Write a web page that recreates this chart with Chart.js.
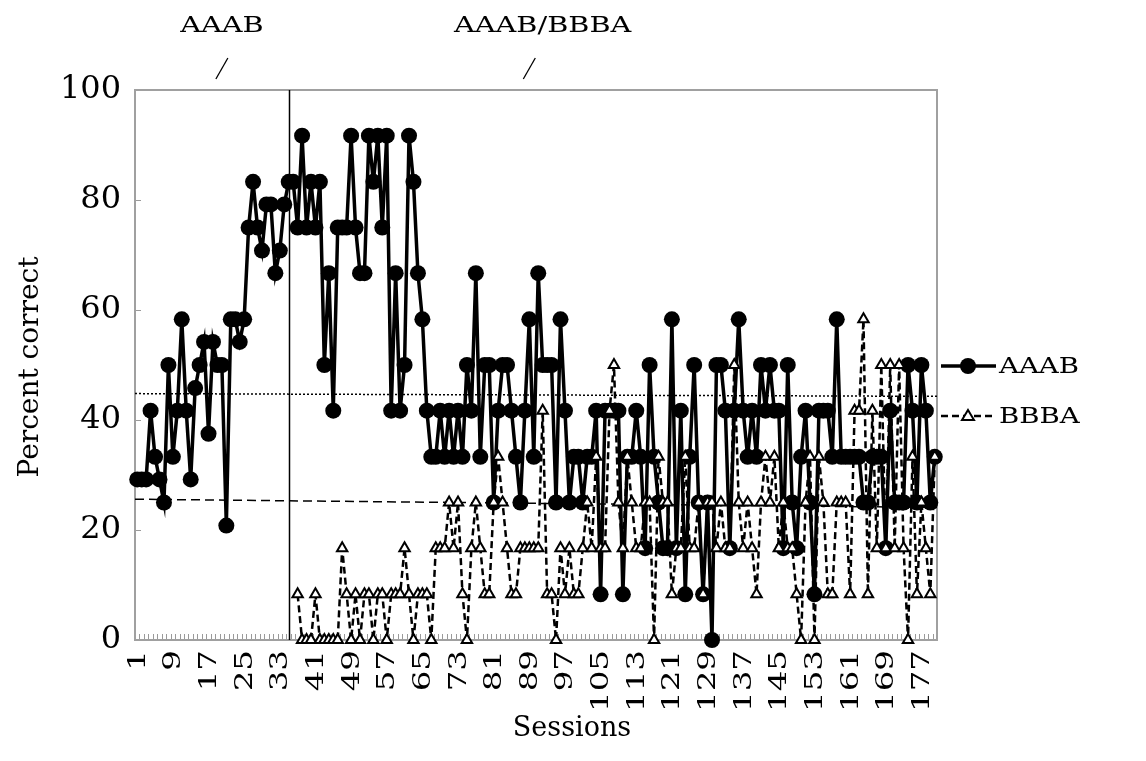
<!DOCTYPE html>
<html>
<head>
<meta charset="utf-8">
<script src="https://cdn.jsdelivr.net/npm/chart.js@4.4.1/dist/chart.umd.min.js"></script>
<style>
  html, body { margin: 0; padding: 0; background: #fff; }
  canvas { display: block; }
</style>
</head>
<body>
<canvas id="chart" width="1146" height="761"></canvas>
<script>
const sessions = [
  1, 2, 3, 4, 5, 6, 7, 8, 9, 10, 11, 12, 13, 14, 15, 16, 17, 18, 19, 20,
  21, 22, 23, 24, 25, 26, 27, 28, 29, 30, 31, 32, 33, 34, 35, 36, 37, 38, 39, 40,
  41, 42, 43, 44, 45, 46, 47, 48, 49, 50, 51, 52, 53, 54, 55, 56, 57, 58, 59, 60,
  61, 62, 63, 64, 65, 66, 67, 68, 69, 70, 71, 72, 73, 74, 75, 76, 77, 78, 79, 80,
  81, 82, 83, 84, 85, 86, 87, 88, 89, 90, 91, 92, 93, 94, 95, 96, 97, 98, 99, 100,
  101, 102, 103, 104, 105, 106, 107, 108, 109, 110, 111, 112, 113, 114, 115, 116, 117, 118, 119, 120,
  121, 122, 123, 124, 125, 126, 127, 128, 129, 130, 131, 132, 133, 134, 135, 136, 137, 138, 139, 140,
  141, 142, 143, 144, 145, 146, 147, 148, 149, 150, 151, 152, 153, 154, 155, 156, 157, 158, 159, 160,
  161, 162, 163, 164, 165, 166, 167, 168, 169, 170, 171, 172, 173, 174, 175, 176, 177, 178, 179, 180,
];
const xTickLabels = [1, 9, 17, 25, 33, 41, 49, 57, 65, 73, 81, 89, 97, 105, 113, 121, 129, 137, 145, 153, 161, 169, 177];
const yTicks = [0, 20, 40, 60, 80, 100];

// percent correct per session
const aaab = [
  29.2, 29.2, 29.2, 41.7, 33.3, 29.2, 25, 50, 33.3, 41.7,
  58.3, 41.7, 29.2, 45.8, 50, 54.2, 37.5, 54.2, 50, 50,
  20.8, 58.3, 58.3, 54.2, 58.3, 75, 83.3, 75, 70.8, 79.2,
  79.2, 66.7, 70.8, 79.2, 83.3, 83.3, 75, 91.7, 75, 83.3,
  75, 83.3, 50, 66.7, 41.7, 75, 75, 75, 91.7, 75,
  66.7, 66.7, 91.7, 83.3, 91.7, 75, 91.7, 41.7, 66.7, 41.7,
  50, 91.7, 83.3, 66.7, 58.3, 41.7, 33.3, 33.3, 41.7, 33.3,
  41.7, 33.3, 41.7, 33.3, 50, 41.7, 66.7, 33.3, 50, 50,
  25, 41.7, 50, 50, 41.7, 33.3, 25, 41.7, 58.3, 33.3,
  66.7, 50, 50, 50, 25, 58.3, 41.7, 25, 33.3, 33.3,
  25, 33.3, 33.3, 41.7, 8.3, 41.7, 41.7, 41.7, 41.7, 8.3,
  33.3, 33.3, 41.7, 33.3, 16.7, 50, 33.3, 25, 16.7, 16.7,
  58.3, 16.7, 41.7, 8.3, 33.3, 50, 25, 8.3, 25, 0,
  50, 50, 41.7, 16.7, 41.7, 58.3, 41.7, 33.3, 41.7, 33.3,
  50, 41.7, 50, 41.7, 41.7, 16.7, 50, 25, 16.7, 33.3,
  41.7, 25, 8.3, 41.7, 41.7, 41.7, 33.3, 58.3, 33.3, 33.3,
  33.3, 33.3, 33.3, 25, 25, 33.3, 33.3, 33.3, 16.7, 41.7,
  25, 25, 25, 50, 41.7, 25, 50, 41.7, 25, 33.3,
];
const bbba = [
  null, null, null, null, null, null, null, null, null, null,
  null, null, null, null, null, null, null, null, null, null,
  null, null, null, null, null, null, null, null, null, null,
  null, null, null, null, null, null, 8.3, 0, 0, 0,
  8.3, 0, 0, 0, 0, 0, 16.7, 8.3, 0, 8.3,
  0, 8.3, 8.3, 0, 8.3, 8.3, 0, 8.3, 8.3, 8.3,
  16.7, 8.3, 0, 8.3, 8.3, 8.3, 0, 16.7, 16.7, 16.7,
  25, 16.7, 25, 8.3, 0, 16.7, 25, 16.7, 8.3, 8.3,
  25, 33.3, 25, 16.7, 8.3, 8.3, 16.7, 16.7, 16.7, 16.7,
  16.7, 41.7, 8.3, 8.3, 0, 16.7, 8.3, 16.7, 8.3, 8.3,
  16.7, 25, 16.7, 33.3, 16.7, 16.7, 41.7, 50, 25, 16.7,
  33.3, 25, 16.7, 16.7, 25, 25, 0, 33.3, 25, 25,
  8.3, 16.7, 16.7, 33.3, 16.7, 16.7, 25, 8.3, 25, 25,
  16.7, 25, 16.7, 16.7, 50, 25, 16.7, 25, 16.7, 8.3,
  25, 33.3, 25, 33.3, 16.7, 25, 16.7, 16.7, 8.3, 0,
  25, 33.3, 0, 33.3, 25, 8.3, 8.3, 25, 25, 25,
  8.3, 41.7, 41.7, 58.3, 8.3, 41.7, 16.7, 50, 16.7, 50,
  16.7, 50, 16.7, 0, 33.3, 8.3, 25, 16.7, 8.3, 33.3,
];

// reference lines, value at left and right edge of the plot
const upperLine = [44.8, 44.3];
const lowerLine = [25.6, 24.1];

// first session of the AAAB/BBBA phase
const phaseChange = 35;

const FONT = "'DejaVu Serif', 'Liberation Serif', serif";

// text drawn a bit wider than the font, like the wide serif of the original
function wideText(ctx, text, x, y, stretch, angle) {
  ctx.save();
  ctx.translate(x, y);
  if (angle) ctx.rotate(angle);
  ctx.scale(stretch, 1);
  ctx.fillText(text, 0, 0);
  ctx.restore();
}

const decorations = {
  id: 'decorations',
  beforeDatasetsDraw(chart) {
    const { ctx, chartArea: a, scales } = chart;
    ctx.save();
    // small inner ticks along the x axis
    ctx.strokeStyle = '#9a9a9a';
    ctx.lineWidth = 1;
    const step = (a.right - a.left) / sessions.length;
    ctx.beginPath();
    for (let i = 0; i <= sessions.length; i++) {
      const x = Math.round(a.left + i * step) + 0.5;
      ctx.moveTo(x, a.bottom);
      ctx.lineTo(x, a.bottom - 6);
    }
    // y ticks pointing inward
    yTicks.forEach((v) => {
      const y = Math.round(scales.y.getPixelForValue(v)) + 0.5;
      ctx.moveTo(a.left, y);
      ctx.lineTo(a.left + 6, y);
    });
    ctx.stroke();
    // plot border
    ctx.strokeStyle = '#a0a0a0';
    ctx.lineWidth = 2;
    ctx.strokeRect(a.left, a.top, a.right - a.left, a.bottom - a.top);
    // phase change line
    const px = Math.round(scales.x.getPixelForValue(phaseChange - 1)) + 0.5;
    ctx.strokeStyle = '#000';
    ctx.lineWidth = 1.5;
    ctx.beginPath();
    ctx.moveTo(px, a.top);
    ctx.lineTo(px, a.bottom);
    ctx.stroke();
    ctx.restore();
  },
  afterDraw(chart) {
    const { ctx, scales, chartArea: a } = chart;
    ctx.save();
    ctx.fillStyle = '#000';
    ctx.strokeStyle = '#000';

    // x tick labels, rotated, reading bottom to top
    ctx.font = `25px ${FONT}`;
    ctx.textAlign = 'right';
    ctx.textBaseline = 'middle';
    xTickLabels.forEach((s) => {
      const x = scales.x.getPixelForValue(sessions.indexOf(s));
      wideText(ctx, String(s), x + 1, a.bottom + 10, 1.3, -Math.PI / 2);
    });

    // phase headers
    ctx.font = `23px ${FONT}`;
    ctx.textAlign = 'center';
    const headers = [['AAAB', 20, 20], ['AAAB/BBBA', 92, 89]];
    headers.forEach(([text, at, slashAt]) => {
      wideText(ctx, text, scales.x.getPixelForValue(at - 1), 26, 1.25);
      const sx = scales.x.getPixelForValue(slashAt - 1);
      ctx.lineWidth = 1.3;
      ctx.beginPath();
      ctx.moveTo(sx - 6, 79);
      ctx.lineTo(sx + 6, 58);
      ctx.stroke();
    });

    // axis titles
    ctx.font = `27px ${FONT}`;
    ctx.fillText('Sessions', 572, 729);
    ctx.font = `28px ${FONT}`;
    wideText(ctx, 'Percent correct', 31, 367, 1, -Math.PI / 2);

    // legend
    const items = [
      { label: 'AAAB', y: 366, dash: [], width: 3.5 },
      { label: 'BBBA', y: 416, dash: [7, 4], width: 2.5 },
    ];
    items.forEach((it, k) => {
      ctx.setLineDash(it.dash);
      ctx.lineWidth = it.width;
      ctx.beginPath();
      ctx.moveTo(941, it.y);
      ctx.lineTo(996, it.y);
      ctx.stroke();
      ctx.setLineDash([]);
      if (k === 0) {
        ctx.beginPath();
        ctx.arc(968, it.y, 8, 0, Math.PI * 2);
        ctx.fill();
      } else {
        ctx.fillStyle = '#fff';
        ctx.lineWidth = 2;
        ctx.beginPath();
        ctx.moveTo(968, it.y - 6);
        ctx.lineTo(974, it.y + 4);
        ctx.lineTo(962, it.y + 4);
        ctx.closePath();
        ctx.fill();
        ctx.stroke();
        ctx.fillStyle = '#000';
      }
      ctx.font = `23px ${FONT}`;
      ctx.textAlign = 'left';
      wideText(ctx, it.label, 999, it.y + 1, 1.2);
    });
    ctx.restore();
  },
};

new Chart(document.getElementById('chart'), {
  type: 'line',
  data: {
    labels: sessions,
    datasets: [
      {
        label: 'BBBA', data: bbba, order: 0, clip: false,
        borderColor: '#000', borderWidth: 2.5, borderDash: [7, 4],
        pointStyle: 'triangle', pointRadius: 6, pointBackgroundColor: '#fff', pointBorderColor: '#000', pointBorderWidth: 2,
      },
      {
        label: 'AAAB', data: aaab, order: 1, clip: false,
        borderColor: '#000', borderWidth: 3.5,
        pointStyle: 'circle', pointRadius: 8, pointBackgroundColor: '#000', pointBorderWidth: 0,
      },
      {
        label: 'upper', xAxisID: 'xt', order: 2,
        data: [{ x: 0, y: upperLine[0] }, { x: 1, y: upperLine[1] }],
        borderColor: '#000', borderWidth: 1.5, borderDash: [2, 2], pointRadius: 0,
      },
      {
        label: 'lower', xAxisID: 'xt', order: 2,
        data: [{ x: 0, y: lowerLine[0] }, { x: 1, y: lowerLine[1] }],
        borderColor: '#000', borderWidth: 1.5, borderDash: [9, 5], pointRadius: 0,
      },
    ],
  },
  options: {
    responsive: false,
    animation: false,
    devicePixelRatio: 1,
    layout: { padding: { left: 0, right: 209, top: 90, bottom: 0 } },
    plugins: { legend: { display: false }, tooltip: { enabled: false } },
    elements: { line: { tension: 0 } },
    scales: {
      x: {
        type: 'category', offset: true,
        grid: { display: false, drawTicks: false }, border: { display: false },
        ticks: { display: false },
        afterFit(scale) { scale.height = 121; },
      },
      xt: { type: 'linear', display: false, min: 0, max: 1 },
      y: {
        min: 0, max: 100,
        grid: { display: false, drawTicks: false }, border: { display: false },
        afterBuildTicks(scale) { scale.ticks = yTicks.map((v) => ({ value: v })); },
        ticks: { padding: 14, color: '#000', font: { family: FONT, size: 32 } },
        afterFit(scale) { scale.width = 135; },
      },
    },
  },
  plugins: [decorations],
});
</script>
</body>
</html>
